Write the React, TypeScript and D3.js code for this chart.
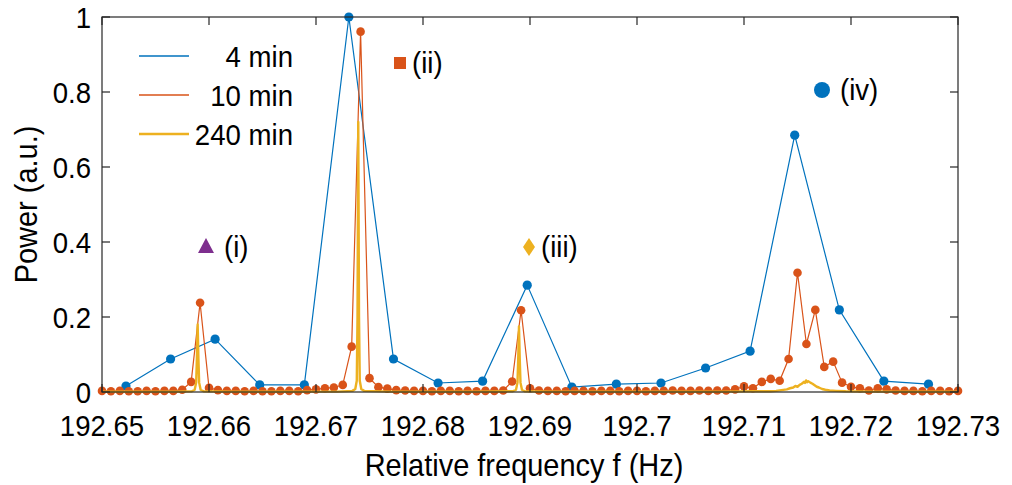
import React from "react";
import * as d3 from "d3";

// ---------- DATA ----------
const xTicks = [192.65, 192.66, 192.67, 192.68, 192.69, 192.7, 192.71, 192.72, 192.73];
const xTickLabels = ["192.65", "192.66", "192.67", "192.68", "192.69", "192.7", "192.71", "192.72", "192.73"];
const yTicks = [0, 0.2, 0.4, 0.6, 0.8, 1];
const yTickLabels = ["0", "0.2", "0.4", "0.6", "0.8", "1"];

// 4 min series
const freq4 = [192.65224, 192.65641, 192.66057, 192.66474, 192.66891, 192.67307, 192.67724, 192.68141, 192.68557, 192.68974,
  192.69391, 192.69807, 192.70224, 192.70641, 192.71057, 192.71474, 192.71891, 192.72307, 192.72724];
const power4 = [0.016, 0.088, 0.141, 0.019, 0.019, 1.0, 0.088, 0.024, 0.029, 0.285,
  0.013, 0.021, 0.024, 0.064, 0.109, 0.685, 0.219, 0.029, 0.021];

// 10 min series (97 bins from 192.65 to 192.73)
const freq10Start = 192.65;
const freq10Step = 0.00083333;
const power10 = [
  0.003, 0.002, 0.003, 0.002, 0.002, 0.003, 0.002, 0.003, 0.003, 0.006,
  0.027, 0.238, 0.011, 0.005, 0.003, 0.003, 0.002, 0.003, 0.002, 0.002,
  0.003, 0.003, 0.002, 0.005, 0.007, 0.010, 0.012, 0.019, 0.121, 0.961,
  0.037, 0.013, 0.009, 0.005, 0.004, 0.003, 0.003, 0.002, 0.003, 0.003,
  0.002, 0.003, 0.002, 0.003, 0.003, 0.004, 0.028, 0.218, 0.010, 0.004,
  0.003, 0.003, 0.002, 0.003, 0.003, 0.002, 0.003, 0.003, 0.002, 0.003,
  0.003, 0.002, 0.003, 0.003, 0.004, 0.003, 0.003, 0.004, 0.003, 0.004,
  0.004, 0.007, 0.015, 0.010, 0.027, 0.035, 0.030, 0.088, 0.318, 0.128,
  0.219, 0.067, 0.081, 0.025, 0.014, 0.010, 0.004, 0.010, 0.007, 0.004,
  0.003, 0.003, 0.002, 0.003, 0.003, 0.002, 0.003,
];
const freq10 = power10.map((_, i) => freq10Start + i * freq10Step);

// 240 min series (fine resolution line)
const freq240 = [
  192.65, 192.654, 192.657, 192.6584, 192.65866, 192.6588, 192.65887, 192.65894, 192.65901, 192.65908, 192.65922, 192.6595,
  192.662, 192.666, 192.670, 192.672, 192.6734, 192.67367, 192.67381, 192.67388, 192.67395, 192.67402, 192.67409, 192.67423, 192.6745,
  192.677, 192.681, 192.685, 192.6884, 192.68869, 192.68883, 192.6889, 192.68897, 192.68904, 192.68911, 192.68925, 192.6895,
  192.692, 192.696, 192.700, 192.704, 192.708, 192.711, 192.7125, 192.7130, 192.7135, 192.7140, 192.7143, 192.7146, 192.7148,
  192.7150, 192.7152, 192.7154, 192.7156, 192.7157, 192.7158, 192.7159, 192.7160, 192.7162, 192.7164, 192.7166, 192.7168,
  192.7170, 192.7173, 192.7176, 192.7180, 192.7186, 192.7195, 192.722, 192.726, 192.73,
];
const power240 = [
  0.001, 0.001, 0.001, 0.002, 0.006, 0.025, 0.09, 0.18, 0.09, 0.025, 0.006, 0.002,
  0.001, 0.001, 0.001, 0.001, 0.003, 0.008, 0.03, 0.2, 0.72, 0.2, 0.03, 0.008, 0.003,
  0.001, 0.001, 0.001, 0.002, 0.006, 0.025, 0.09, 0.175, 0.09, 0.025, 0.006, 0.002,
  0.001, 0.001, 0.001, 0.001, 0.001, 0.002, 0.002, 0.003, 0.005, 0.007, 0.010, 0.012, 0.016,
  0.014, 0.019, 0.022, 0.027, 0.024, 0.031, 0.026, 0.029, 0.025, 0.022, 0.018, 0.014,
  0.012, 0.008, 0.006, 0.004, 0.003, 0.002, 0.001, 0.001, 0.001,
];

const seriesNames = ["4 min", "10 min", "240 min"];
const annotations = ["(i)", "(ii)", "(iii)", "(iv)"];

// ---------- STYLE ----------
const W = 1012, H = 485;
const M = { left: 102, right: 958, top: 17, bottom: 392 };
const BLUE = "#0072BD", ORANGE = "#D95319", YELLOW = "#EDB120", PURPLE = "#7E2F8E";
const FONT = "'Liberation Sans', Arial, Helvetica, sans-serif";
const FS = 30;
const SX = 0.92;

function T(props: { x: number; y: number; anchor?: string; size?: number; rotate?: number; children: React.ReactNode }) {
  const { x, y, anchor = "start", size = FS, rotate = 0, children } = props;
  return (
    <text
      transform={`translate(${x},${y}) rotate(${rotate}) scale(${SX},1)`}
      textAnchor={anchor}
      fontSize={size}
      fill="#000"
    >
      {children}
    </text>
  );
}

export default function App() {
  const x = d3.scaleLinear().domain([192.65, 192.73]).range([M.left, M.right]);
  const y = d3.scaleLinear().domain([0, 1]).range([M.bottom, M.top]);
  const line = d3.line<[number, number]>().x((d) => x(d[0])).y((d) => y(d[1]));

  const d4 = freq4.map((f, i) => [f, power4[i]] as [number, number]);
  const d10 = freq10.map((f, i) => [f, power10[i]] as [number, number]);
  const d240 = freq240.map((f, i) => [f, power240[i]] as [number, number]);

  const tickLen = 8;

  return (
    <svg width={W} height={H} style={{ position: "absolute", left: 0, top: 0, background: "#fff" }} fontFamily={FONT}>
      <rect x={0} y={0} width={W} height={H} fill="#fff" />
      {/* series 4 min */}
      <path d={line(d4) || ""} fill="none" stroke={BLUE} strokeWidth={1.2} />
      {d4.map((d, i) => (
        <circle key={"b" + i} cx={x(d[0])} cy={y(d[1])} r={4.6} fill={BLUE} />
      ))}
      {/* series 10 min */}
      <path d={line(d10) || ""} fill="none" stroke={ORANGE} strokeWidth={1.2} />
      {d10.map((d, i) => (
        <circle key={"o" + i} cx={x(d[0])} cy={y(d[1])} r={4.3} fill={ORANGE} />
      ))}
      {/* series 240 min */}
      <path d={line(d240) || ""} fill="none" stroke={YELLOW} strokeWidth={2.4} strokeLinejoin="round" />

      {/* axes box */}
      <rect x={M.left} y={M.top} width={M.right - M.left} height={M.bottom - M.top} fill="none" stroke="#262626" strokeWidth={1.2} />
      {xTicks.map((t, i) => (
        <g key={"xt" + i}>
          <line x1={x(t)} x2={x(t)} y1={M.bottom} y2={M.bottom - tickLen} stroke="#262626" strokeWidth={1.2} />
          <line x1={x(t)} x2={x(t)} y1={M.top} y2={M.top + tickLen} stroke="#262626" strokeWidth={1.2} />
          <T x={x(t)} y={M.bottom + 44} anchor="middle">{xTickLabels[i]}</T>
        </g>
      ))}
      {yTicks.map((t, i) => (
        <g key={"yt" + i}>
          <line x1={M.left} x2={M.left + tickLen} y1={y(t)} y2={y(t)} stroke="#262626" strokeWidth={1.2} />
          <line x1={M.right} x2={M.right - tickLen} y1={y(t)} y2={y(t)} stroke="#262626" strokeWidth={1.2} />
          <T x={91} y={y(t) + 11} anchor="end">{yTickLabels[i]}</T>
        </g>
      ))}
      {/* axis labels */}
      <T x={(M.left + M.right) / 2 - 6} y={476} anchor="middle" size={31.5}>Relative frequency f (Hz)</T>
      <T x={37} y={(M.top + M.bottom) / 2} anchor="middle" size={31.5} rotate={-90}>Power (a.u.)</T>

      {/* legend */}
      {[BLUE, ORANGE, YELLOW].map((c, i) => (
        <g key={"lg" + i}>
          <line x1={139} x2={189} y1={56 + i * 39} y2={56 + i * 39} stroke={c} strokeWidth={i === 2 ? 2.4 : 1.4} />
          <T x={293} y={56 + i * 39 + 11} anchor="end">{seriesNames[i]}</T>
        </g>
      ))}

      {/* annotations */}
      <path d="M 206 238 L 214 253 L 198 253 Z" fill={PURPLE} />
      <T x={224} y={257}>{annotations[0]}</T>
      <rect x={394} y={57} width={12} height={12} fill={ORANGE} />
      <T x={412} y={73}>{annotations[1]}</T>
      <path d="M 529 238 L 535 247 L 529 256 L 523 247 Z" fill={YELLOW} />
      <T x={541} y={257}>{annotations[2]}</T>
      <circle cx={822} cy={90} r={8} fill={BLUE} />
      <T x={840} y={100}>{annotations[3]}</T>
    </svg>
  );
}
